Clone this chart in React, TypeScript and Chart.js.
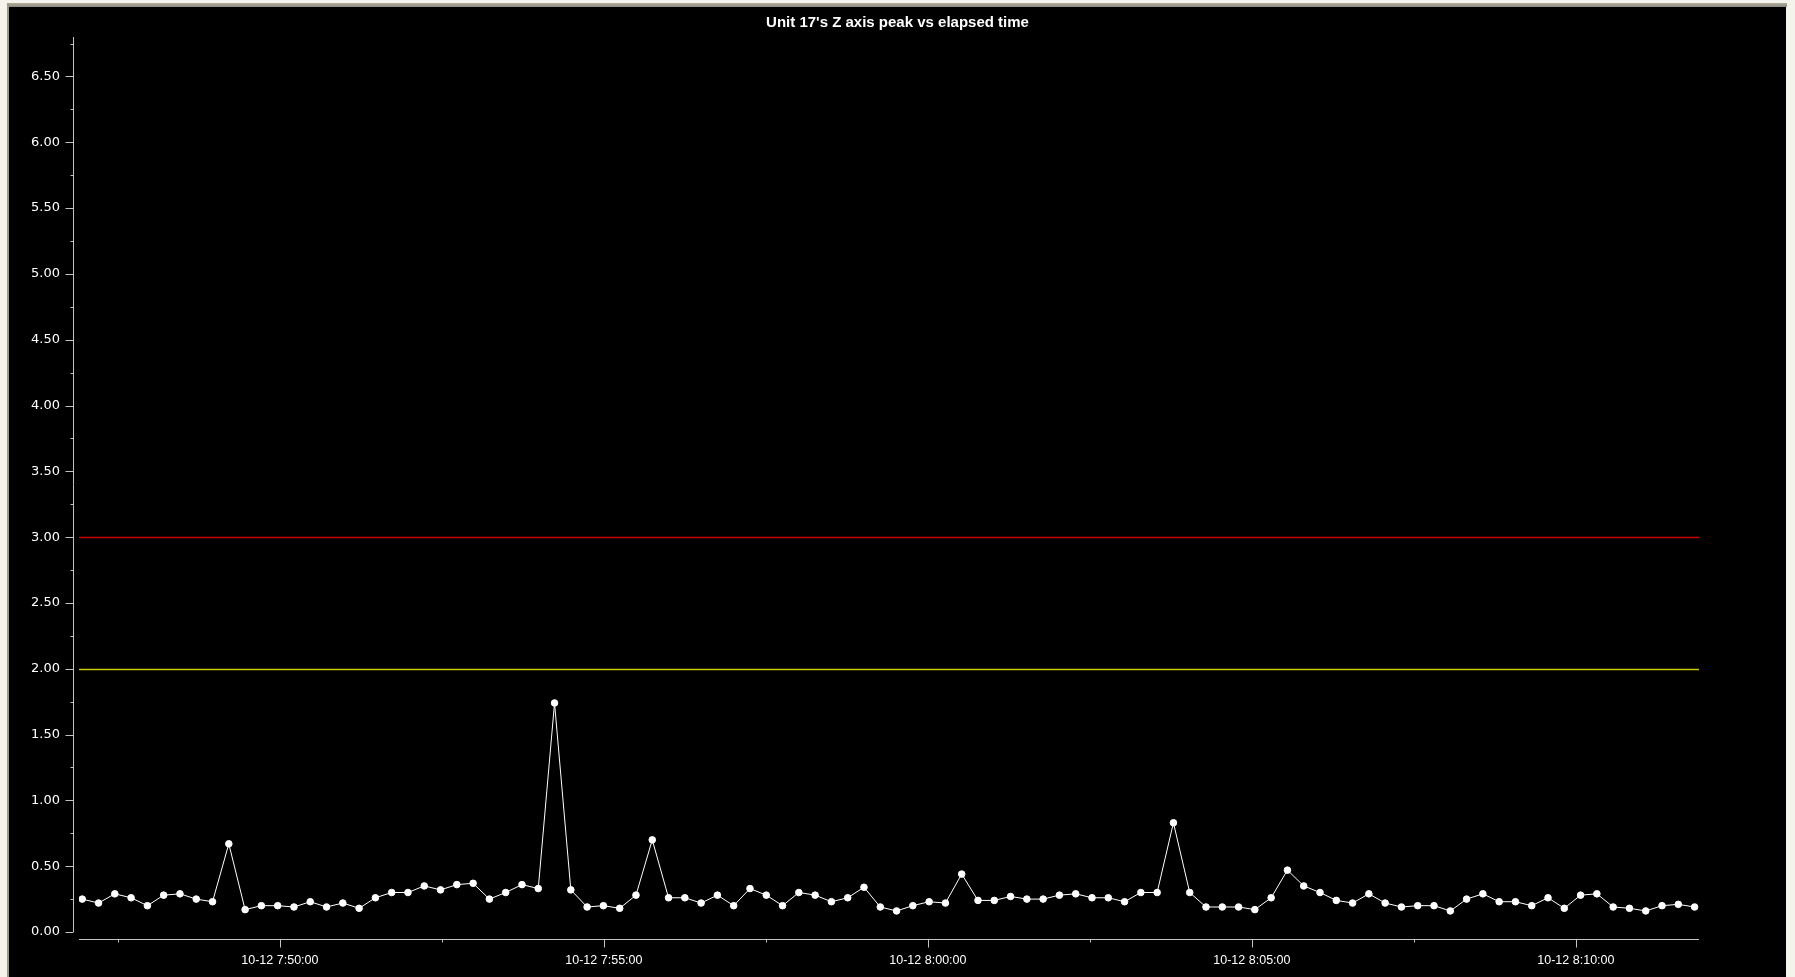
import { useEffect, useRef } from 'react';
import { Chart, registerables } from 'chart.js';

Chart.register(...registerables);

const chartTitle = "Unit 17's Z axis peak vs elapsed time";
const datePrefix = '10-12';

// sampling clock of the series (first sample and spacing between samples)
const firstSampleTime = '07:46:57';
const sampleIntervalSeconds = 15.08;

// Z axis peak values, one per sample
const zPeak: number[] = [
  0.25, 0.22, 0.29, 0.26, 0.20, 0.28, 0.29, 0.25, 0.23, 0.67,
  0.17, 0.20, 0.20, 0.19, 0.23, 0.19, 0.22, 0.18, 0.26, 0.30,
  0.30, 0.35, 0.32, 0.36, 0.37, 0.25, 0.30, 0.36, 0.33, 1.74,
  0.32, 0.19, 0.20, 0.18, 0.28, 0.70, 0.26, 0.26, 0.22, 0.28,
  0.20, 0.33, 0.28, 0.20, 0.30, 0.28, 0.23, 0.26, 0.34, 0.19,
  0.16, 0.20, 0.23, 0.22, 0.44, 0.24, 0.24, 0.27, 0.25, 0.25,
  0.28, 0.29, 0.26, 0.26, 0.23, 0.30, 0.30, 0.83, 0.30, 0.19,
  0.19, 0.19, 0.17, 0.26, 0.47, 0.35, 0.30, 0.24, 0.22, 0.29,
  0.22, 0.19, 0.20, 0.20, 0.16, 0.25, 0.29, 0.23, 0.23, 0.20,
  0.26, 0.18, 0.28, 0.29, 0.19, 0.18, 0.16, 0.20, 0.21, 0.19,
];

const xAxisMin = '07:46:54';
const xAxisMax = '08:11:54';
const xMajorTicks = ['07:50:00', '07:55:00', '08:00:00', '08:05:00', '08:10:00'];
const xMinorTicks = ['07:47:30', '07:52:30', '07:57:30', '08:02:30', '08:07:30'];

const yAxisMin = 0;
const yAxisMax = 6.8;
const yMajorTicks = [0, 0.5, 1, 1.5, 2, 2.5, 3, 3.5, 4, 4.5, 5, 5.5, 6, 6.5];
const yMinorTicks = [0.25, 0.75, 1.25, 1.75, 2.25, 2.75, 3.25, 3.75, 4.25, 4.75, 5.25, 5.75, 6.25, 6.75];

const thresholdValues = [3.0, 2.0];
const thresholdColors = ['#cc0000', '#c8c800'];

const toSeconds = (t: string) => {
  const [h, m, s] = t.split(':').map(Number);
  return h * 3600 + m * 60 + s;
};

const formatTime = (sec: number) => {
  const h = Math.floor(sec / 3600);
  const m = Math.floor((sec % 3600) / 60);
  const s = Math.round(sec % 60);
  return `${datePrefix} ${h}:${String(m).padStart(2, '0')}:${String(s).padStart(2, '0')}`;
};

const AXIS_COLOR = '#c4c4c4';

const axesPlugin = {
  id: 'offsetAxes',
  beforeDatasetsDraw(chart: any) {
    const { ctx, chartArea, scales } = chart;
    const y = scales.y;
    ctx.save();
    thresholdValues.forEach((v, i) => {
      const py = Math.round(y.getPixelForValue(v)) + 0.5;
      ctx.strokeStyle = thresholdColors[i];
      ctx.lineWidth = 1.5;
      ctx.beginPath();
      ctx.moveTo(chartArea.left, py);
      ctx.lineTo(chartArea.right, py);
      ctx.stroke();
    });
    ctx.restore();
  },
  afterDraw(chart: any) {
    const { ctx, chartArea, scales } = chart;
    const x = scales.x;
    const y = scales.y;
    ctx.save();
    ctx.strokeStyle = AXIS_COLOR;
    ctx.lineWidth = 1;
    // y axis
    const ax = chartArea.left - 6 + 0.5;
    ctx.beginPath();
    ctx.moveTo(ax, chartArea.top);
    ctx.lineTo(ax, y.getPixelForValue(yAxisMin));
    yMajorTicks.forEach((v) => {
      const py = Math.round(y.getPixelForValue(v)) + 0.5;
      ctx.moveTo(ax - 8, py);
      ctx.lineTo(ax, py);
    });
    yMinorTicks.forEach((v) => {
      const py = Math.round(y.getPixelForValue(v)) + 0.5;
      ctx.moveTo(ax - 3, py);
      ctx.lineTo(ax, py);
    });
    // x axis
    const ay = chartArea.bottom + 7 + 0.5;
    ctx.moveTo(chartArea.left, ay);
    ctx.lineTo(chartArea.right, ay);
    xMajorTicks.forEach((t) => {
      const px = Math.round(x.getPixelForValue(toSeconds(t))) + 0.5;
      ctx.moveTo(px, ay);
      ctx.lineTo(px, ay + 8);
    });
    xMinorTicks.forEach((t) => {
      const px = Math.round(x.getPixelForValue(toSeconds(t))) + 0.5;
      ctx.moveTo(px, ay);
      ctx.lineTo(px, ay + 3);
    });
    ctx.stroke();
    ctx.restore();
  },
};

export default function App() {
  const canvasRef = useRef<HTMLCanvasElement | null>(null);

  useEffect(() => {
    document.body.style.margin = '0';
    document.body.style.overflow = 'hidden';
    const canvas = canvasRef.current;
    if (!canvas) return;
    const start = toSeconds(firstSampleTime);
    const points = zPeak.map((v, i) => ({ x: start + i * sampleIntervalSeconds, y: v }));

    const chart = new Chart(canvas, {
      type: 'line',
      data: {
        datasets: [
          {
            label: 'Z axis peak',
            data: points,
            borderColor: '#ffffff',
            borderWidth: 1,
            backgroundColor: '#ffffff',
            pointBackgroundColor: '#ffffff',
            pointBorderColor: '#ffffff',
            pointBorderWidth: 1,
            pointRadius: 3.3,
            tension: 0,
          },
        ],
      },
      options: {
        responsive: false,
        animation: false,
        events: [],
        layout: { padding: { left: 0, right: 0, top: 0, bottom: 0 } },
        plugins: {
          legend: { display: false },
          tooltip: { enabled: false },
          title: {
            display: true,
            text: chartTitle,
            color: '#ffffff',
            font: { family: "'Liberation Sans', Arial, sans-serif", size: 15, weight: 'bold' },
            padding: { top: 7, bottom: 5 },
          },
        },
        scales: {
          x: {
            type: 'linear',
            min: toSeconds(xAxisMin),
            max: toSeconds(xAxisMax),
            grid: { display: false, drawTicks: false },
            border: { display: false },
            afterBuildTicks: (scale: any) => {
              scale.ticks = xMajorTicks.map((t) => ({ value: toSeconds(t) }));
            },
            afterFit: (scale: any) => {
              scale.height = 45;
            },
            ticks: {
              autoSkip: false,
              maxRotation: 0,
              padding: 21,
              color: '#ffffff',
              font: { family: "'Liberation Sans', Arial, sans-serif", size: 12.5 },
              callback: (v: any) => formatTime(Number(v)),
            },
          },
          y: {
            type: 'linear',
            min: yAxisMin,
            max: yAxisMax,
            grid: { display: false, drawTicks: false },
            border: { display: false },
            afterBuildTicks: (scale: any) => {
              scale.ticks = yMajorTicks.map((v) => ({ value: v }));
            },
            afterFit: (scale: any) => {
              scale.width = 70;
            },
            ticks: {
              padding: 19,
              color: '#ffffff',
              font: { family: "'DejaVu Sans', Verdana, sans-serif", size: 13 },
              callback: (v: any) => Number(v).toFixed(2),
            },
          },
          yRightSpace: {
            type: 'linear',
            position: 'right',
            display: true,
            min: yAxisMin,
            max: yAxisMax,
            grid: { display: false, drawTicks: false },
            border: { display: false },
            ticks: { display: false },
            afterFit: (scale: any) => {
              scale.width = 87;
            },
          },
        },
      },
      plugins: [axesPlugin],
    });
    return () => chart.destroy();
  }, []);

  return (
    <div style={{ position: 'fixed', left: 0, top: 0, width: 1795, height: 977, background: '#f5f4ec', overflow: 'hidden' }}>
      <div style={{ position: 'absolute', left: 7, top: 3, width: 1780, height: 4, background: 'linear-gradient(#b0ad9f, #8d8a7c)' }} />
      <div style={{ position: 'absolute', left: 7, top: 3, width: 2, height: 974, background: '#9c998b' }} />
      <div style={{ position: 'absolute', left: 9, top: 7, width: 1777, height: 970, background: '#000000' }}>
        <canvas ref={canvasRef} width={1777} height={970} style={{ display: 'block', width: 1777, height: 970 }} />
      </div>
    </div>
  );
}
